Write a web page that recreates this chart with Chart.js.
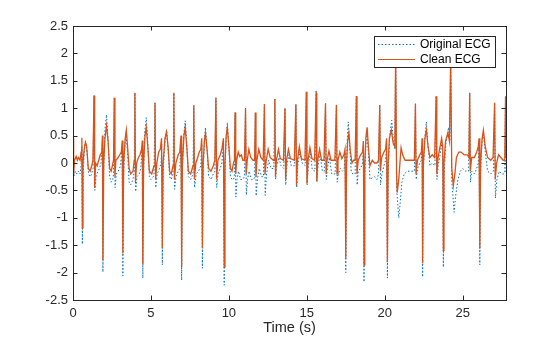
<!DOCTYPE html>
<html>
<head>
<meta charset="utf-8">
<script src="https://cdn.jsdelivr.net/npm/chart.js@4.4.1/dist/chart.umd.min.js"></script>
<style>
    html, body { margin: 0; padding: 0; background: #fff; }
    #wrap { width: 560px; height: 337px; position: relative; }
</style>
</head>
<body>
<div id="wrap"><canvas id="ecgChart" width="560" height="337"></canvas></div>
<script>
// time (s) / amplitude pairs
const origSeg1 = [
    [0, -0.3], [0.05, -0.25], [0.15, -0.15], [0.25, -0.2], [0.35, -0.15], [0.45, -0.2], [0.52, -0.05], [0.57, 0.3],
    [0.6, -1.48], [0.65, -0.2], [0.72, 0.2], [0.8, 0.4], [0.9, 0.2], [1.0, -0.2], [1.1, -0.25], [1.2, -0.2],
    [1.28, -0.1], [1.35, 1.23], [1.4, -0.5], [1.48, -0.25], [1.6, -0.15], [1.7, -0.1], [1.8, 0.0], [1.88, 0.4],
    [1.92, -1.99], [1.97, -0.1], [2.05, 0.6], [2.15, 0.88], [2.25, 0.45], [2.35, -0.25], [2.45, -0.35], [2.55, -0.3],
    [2.6, -0.2], [2.65, 1.19], [2.7, -0.45], [2.78, -0.2], [2.9, -0.15], [3.05, -0.05], [3.15, 0.3], [3.2, -2.06],
    [3.25, -0.2], [3.33, 0.35], [3.4, 0.55], [3.5, 0.2], [3.6, -0.35], [3.7, -0.4], [3.85, -0.3], [3.93, -0.15],
    [3.97, 1.28], [4.02, -0.52], [4.1, -0.25], [4.25, -0.2], [4.35, -0.1], [4.44, 0.3], [4.48, -2.1], [4.53, -0.15],
    [4.6, 0.55], [4.7, 0.83], [4.8, 0.35], [4.9, -0.25], [5.0, -0.3], [5.15, -0.25], [5.2, -0.2], [5.26, 1.1],
    [5.31, -0.45], [5.4, -0.2], [5.55, -0.1], [5.65, 0.0], [5.69, 0.35], [5.73, -1.86], [5.78, -0.15], [5.9, 0.4],
    [6.0, 0.6], [6.1, 0.25], [6.2, -0.25], [6.3, -0.3], [6.42, -0.2], [6.47, 1.28], [6.52, -0.48], [6.6, -0.25],
    [6.75, -0.15], [6.85, -0.1], [6.93, 0.35], [6.97, -2.14], [7.02, -0.15], [7.1, 0.5], [7.2, 0.77], [7.3, 0.35],
    [7.4, -0.25], [7.55, -0.3], [7.7, -0.2], [7.75, 1.05], [7.8, -0.45], [7.9, -0.2], [8.05, -0.15], [8.2, -0.05],
    [8.26, 0.35], [8.3, -1.92], [8.35, -0.15], [8.43, 0.4], [8.5, 0.65], [8.6, 0.25], [8.7, -0.25], [8.85, -0.3],
    [9.0, -0.2], [9.1, -0.15], [9.17, 1.19], [9.22, -0.45], [9.3, -0.2], [9.45, -0.1], [9.55, 0.0], [9.65, 0.35],
    [9.7, -2.23], [9.75, -0.15], [9.83, 0.45], [9.9, 0.72], [10.0, 0.3], [10.1, -0.25], [10.2, -0.3]
];
const origSeg2 = [
    [10.3, -0.3], [10.35, -0.25], [10.4, 0.92], [10.45, -0.62], [10.52, -0.3], [10.62, -0.15], [10.75, -0.3], [10.9, -0.3],
    [11.0, -0.25], [11.07, 1.0], [11.12, -0.58], [11.2, -0.3], [11.3, -0.15], [11.45, -0.3], [11.6, -0.3], [11.65, -0.25],
    [11.7, 0.92], [11.75, -0.6], [11.83, -0.3], [11.95, -0.1], [12.1, -0.25], [12.22, -0.25], [12.28, 1.07], [12.33, -0.59],
    [12.42, -0.2], [12.55, 0.05], [12.7, -0.1], [12.88, -0.1], [12.95, 1.17], [13.0, -0.3], [13.07, -0.05], [13.2, 0.1],
    [13.35, -0.05], [13.52, -0.1], [13.6, 1.0], [13.65, -0.4], [13.72, -0.05], [13.85, 0.15], [14.0, -0.05], [14.22, -0.05],
    [14.3, 1.07], [14.35, -0.45], [14.42, -0.05], [14.55, 0.2], [14.7, 0.0], [14.9, -0.05], [14.97, 1.3], [15.02, -0.4],
    [15.1, -0.05], [15.22, 0.2], [15.35, -0.12], [15.52, -0.15], [15.6, 1.33], [15.65, -0.35], [15.72, -0.05], [15.85, 0.15],
    [16.0, -0.15], [16.12, -0.15], [16.2, 1.09], [16.25, -0.3], [16.32, -0.1], [16.45, 0.1], [16.6, -0.2], [16.82, -0.2],
    [16.9, 1.06], [16.95, -0.35], [17.02, -0.2], [17.15, -0.1], [17.3, -0.15]
];
const origSeg3 = [
    [17.4, -0.1], [17.46, 0.2], [17.5, -2.0], [17.55, -0.2], [17.6, 0.45], [17.66, 0.75], [17.75, 0.3], [17.85, -0.15],
    [17.95, -0.2], [18.1, -0.2], [18.18, 1.22], [18.23, -0.4], [18.3, -0.15], [18.45, -0.1], [18.58, 0.0], [18.63, 0.3],
    [18.67, -2.17], [18.72, -0.2], [18.8, 0.4], [18.87, 0.55], [18.95, 0.2], [19.05, -0.3], [19.2, -0.27], [19.35, -0.25],
    [19.5, -0.3], [19.6, -0.2], [19.68, 1.06], [19.73, -0.4], [19.82, -0.2], [19.95, -0.05], [20.05, 0.05], [20.12, 0.3],
    [20.17, -2.1], [20.22, -0.15], [20.32, 0.5], [20.45, 0.78], [20.55, 0.4], [20.65, 0.25], [20.7, 2.0], [20.77, -0.5],
    [20.9, -1.0], [21.0, -0.7], [21.1, -0.35], [21.25, -0.2], [21.45, -0.15], [21.7, -0.15], [21.9, -0.15], [21.97, 1.08],
    [22.02, -0.3], [22.1, -0.1], [22.25, 0.0], [22.35, 0.05], [22.4, 0.3], [22.43, -2.08], [22.48, -0.15], [22.57, 0.45],
    [22.67, 0.75], [22.78, 0.3], [22.9, -0.05], [23.05, 0.0], [23.22, -0.05], [23.3, 1.22], [23.35, -0.3], [23.43, -0.05],
    [23.55, 0.15], [23.65, 0.35], [23.72, 0.2], [23.76, -1.9], [23.81, -0.2], [23.92, 0.35], [24.1, 0.65], [24.17, 0.4],
    [24.23, 1.9], [24.3, -0.3], [24.45, -0.9], [24.55, -0.6], [24.7, -0.3], [24.85, -0.15], [25.0, -0.1], [25.2, -0.15],
    [25.38, -0.15], [25.45, 1.28], [25.5, -0.35], [25.58, -0.15], [25.75, -0.2], [25.9, -0.1], [26.0, 0.0], [26.05, 0.3],
    [26.1, -1.86], [26.15, -0.2], [26.23, 0.35], [26.32, 0.55], [26.45, 0.2], [26.6, -0.15], [26.8, -0.2], [26.97, -0.15],
    [27.05, 1.1], [27.1, -0.64], [27.2, -0.3], [27.35, -0.15], [27.5, -0.2], [27.65, -0.2], [27.7, -0.15], [27.75, 1.22],
    [27.78, -0.2]
];

const cleanSeg1 = [
    [0, 0.45], [0.04, -0.2], [0.1, 0.05], [0.2, 0.12], [0.28, 0.05], [0.35, 0.1], [0.45, 0.05], [0.52, 0.2],
    [0.57, 0.46], [0.6, -1.19], [0.64, 0.0], [0.72, 0.25], [0.8, 0.38], [0.88, 0.3], [0.98, -0.1], [1.1, -0.15],
    [1.2, -0.05], [1.28, 0.05], [1.35, 1.23], [1.39, -0.45], [1.45, 0.0], [1.55, -0.05], [1.65, 0.05], [1.75, 0.15],
    [1.85, 0.2], [1.89, 0.5], [1.92, -1.77], [1.97, 0.0], [2.05, 0.45], [2.15, 0.68], [2.25, 0.4], [2.35, -0.1],
    [2.45, -0.15], [2.6, 0.05], [2.65, 1.19], [2.69, -0.25], [2.75, 0.05], [2.9, 0.1], [3.0, 0.15], [3.1, 0.2],
    [3.16, 0.41], [3.2, -1.65], [3.25, 0.0], [3.35, 0.45], [3.42, 0.6], [3.5, 0.3], [3.6, -0.1], [3.7, -0.2],
    [3.85, -0.15], [3.93, 0.05], [3.97, 1.28], [4.01, -0.35], [4.08, 0.0], [4.2, 0.1], [4.3, 0.15], [4.4, 0.25],
    [4.45, 0.41], [4.48, -1.85], [4.53, 0.0], [4.62, 0.5], [4.7, 0.65], [4.8, 0.3], [4.9, -0.15], [5.05, -0.2],
    [5.2, -0.05], [5.26, 1.1], [5.3, -0.3], [5.38, 0.0], [5.5, 0.2], [5.6, 0.25], [5.68, 0.45], [5.73, -1.55],
    [5.78, 0.0], [5.9, 0.45], [6.0, 0.57], [6.1, 0.3], [6.2, -0.15], [6.3, -0.2], [6.42, -0.05], [6.47, 1.28],
    [6.51, -0.3], [6.6, 0.0], [6.75, 0.15], [6.85, 0.2], [6.93, 0.5], [6.97, -1.9], [7.02, 0.0], [7.12, 0.5],
    [7.2, 0.65], [7.3, 0.3], [7.4, -0.15], [7.55, -0.2], [7.7, -0.05], [7.75, 1.05], [7.79, -0.3], [7.88, 0.0],
    [8.0, 0.1], [8.1, 0.2], [8.2, 0.25], [8.26, 0.45], [8.3, -1.55], [8.35, 0.0], [8.43, 0.4], [8.5, 0.55],
    [8.6, 0.25], [8.7, -0.1], [8.85, -0.15], [9.0, -0.05], [9.1, 0.05], [9.17, 1.19], [9.21, -0.3], [9.3, 0.05],
    [9.45, 0.15], [9.55, 0.25], [9.65, 0.45], [9.7, -1.9], [9.75, 0.0], [9.83, 0.5], [9.9, 0.65], [10.0, 0.3],
    [10.1, -0.1], [10.2, -0.15]
];
const cleanSeg2 = [
    [10.3, 0.0], [10.36, 0.05], [10.4, 0.92], [10.44, -0.2], [10.5, 0.05], [10.6, 0.2], [10.7, 0.12], [10.8, 0.15],
    [10.9, 0.05], [11.0, 0.05], [11.07, 1.0], [11.11, -0.2], [11.18, 0.05], [11.28, 0.25], [11.4, 0.1], [11.55, 0.05],
    [11.65, 0.05], [11.7, 0.92], [11.74, -0.25], [11.8, 0.05], [11.92, 0.25], [12.05, 0.1], [12.2, 0.05], [12.28, 1.07],
    [12.32, -0.2], [12.4, 0.05], [12.52, 0.25], [12.65, 0.1], [12.85, 0.05], [12.9, 0.05], [12.95, 1.17], [12.99, -0.25],
    [13.05, 0.05], [13.18, 0.25], [13.3, 0.08], [13.5, 0.05], [13.6, 1.0], [13.64, -0.3], [13.7, 0.05], [13.82, 0.25],
    [13.95, 0.08], [14.2, 0.05], [14.3, 1.07], [14.34, -0.4], [14.4, 0.05], [14.52, 0.3], [14.65, 0.08], [14.88, 0.05],
    [14.97, 1.3], [15.01, -0.38], [15.08, 0.05], [15.2, 0.28], [15.33, 0.08], [15.5, 0.05], [15.6, 1.28], [15.64, -0.33],
    [15.7, 0.05], [15.82, 0.25], [15.95, 0.05], [16.1, 0.05], [16.2, 1.09], [16.24, -0.2], [16.3, 0.05], [16.42, 0.22],
    [16.55, 0.05], [16.8, 0.05], [16.9, 1.06], [16.94, -0.2], [17.0, 0.05], [17.12, 0.2], [17.25, 0.08]
];
const cleanSeg3 = [
    [17.38, 0.15], [17.45, 0.25], [17.5, -1.74], [17.55, 0.0], [17.62, 0.4], [17.7, 0.55], [17.8, 0.2], [17.9, 0.0],
    [18.0, 0.05], [18.1, 0.05], [18.18, 1.22], [18.22, -0.2], [18.3, 0.05], [18.45, 0.15], [18.58, 0.2], [18.63, 0.4],
    [18.67, -1.86], [18.72, 0.0], [18.8, 0.5], [18.87, 0.65], [18.95, 0.3], [19.05, -0.05], [19.2, 0.05], [19.35, 0.0],
    [19.5, 0.0], [19.6, 0.05], [19.68, 1.06], [19.72, -0.15], [19.8, 0.1], [19.95, 0.2], [20.05, 0.25], [20.12, 0.45],
    [20.17, -1.81], [20.22, 0.0], [20.3, 0.45], [20.42, 0.6], [20.55, 0.35], [20.65, 0.3], [20.7, 2.0], [20.76, -0.2],
    [20.8, -0.54], [20.9, -0.3], [21.0, 0.1], [21.05, 0.28], [21.15, 0.15], [21.3, 0.05], [21.5, 0.05], [21.7, 0.05],
    [21.9, 0.05], [21.97, 1.08], [22.01, -0.2], [22.1, 0.05], [22.25, 0.15], [22.35, 0.2], [22.4, 0.45], [22.43, -1.83],
    [22.48, 0.0], [22.58, 0.45], [22.67, 0.6], [22.78, 0.3], [22.9, 0.1], [23.05, 0.15], [23.2, 0.1], [23.3, 1.22],
    [23.34, -0.2], [23.42, 0.1], [23.55, 0.3], [23.65, 0.45], [23.72, 0.3], [23.76, -1.6], [23.8, 0.0], [23.9, 0.4],
    [24.05, 0.55], [24.15, 0.4], [24.23, 1.9], [24.3, -0.1], [24.4, -0.41], [24.5, -0.2], [24.6, 0.1], [24.75, 0.2],
    [24.9, 0.2], [25.1, 0.15], [25.3, 0.15], [25.4, 0.1], [25.45, 1.28], [25.49, -0.15], [25.58, 0.1], [25.75, 0.1],
    [25.9, 0.2], [26.0, 0.3], [26.05, 0.45], [26.1, -1.56], [26.15, 0.0], [26.25, 0.45], [26.33, 0.6], [26.45, 0.3],
    [26.6, 0.1], [26.8, 0.05], [26.95, 0.1], [27.05, 1.1], [27.09, -0.3], [27.18, 0.0], [27.3, 0.15], [27.45, 0.1],
    [27.6, 0.05], [27.7, 0.05], [27.75, 1.22], [27.78, 0.1]
];

const xTickValues = [0, 5, 10, 15, 20, 25];
const yTickValues = [-2.5, -2, -1.5, -1, -0.5, 0, 0.5, 1, 1.5, 2, 2.5];
const xLimits = [0, 27.78];
const yLimits = [-2.5, 2.5];

const seriesNames = ['Original ECG', 'Clean ECG'];
const BLUE = '#0072BD';
const ORANGE = '#D95319';
const AXIS = '#262626';

const toPoints = segs => segs.flat().map(p => ({ x: p[0], y: p[1] }));

// MATLAB-style box + inward ticks + opaque legend
const matlabAxes = {
    id: 'matlabAxes',
    afterDatasetsDraw(chart) {
        const { ctx, chartArea: a, scales } = chart;
        const tl = 4.5;
        ctx.save();
        ctx.strokeStyle = AXIS;
        ctx.lineWidth = 1;
        ctx.beginPath();
        xTickValues.forEach(v => {
            const px = Math.round(scales.x.getPixelForValue(v)) + 0.5;
            ctx.moveTo(px, a.bottom); ctx.lineTo(px, a.bottom - tl);
            ctx.moveTo(px, a.top); ctx.lineTo(px, a.top + tl);
        });
        yTickValues.forEach(v => {
            const py = Math.round(scales.y.getPixelForValue(v)) + 0.5;
            ctx.moveTo(a.left, py); ctx.lineTo(a.left + tl, py);
            ctx.moveTo(a.right, py); ctx.lineTo(a.right - tl, py);
        });
        ctx.stroke();
        ctx.strokeRect(Math.round(a.left) + 0.5, Math.round(a.top) + 0.5,
            Math.round(a.right - a.left), Math.round(a.bottom - a.top));

        // legend box
        const lx = 374.5, ly = 36.5, lw = 121, lh = 31;
        ctx.fillStyle = '#fff';
        ctx.fillRect(lx, ly, lw, lh);
        ctx.strokeRect(lx, ly, lw, lh);
        const rows = [
            { y: 44.5, color: BLUE, dash: [1.5, 2] },
            { y: 59.5, color: ORANGE, dash: [] }
        ];
        ctx.font = '12px "Liberation Sans", Arial, sans-serif';
        ctx.textBaseline = 'middle';
        rows.forEach((r, i) => {
            ctx.strokeStyle = r.color;
            ctx.setLineDash(r.dash);
            ctx.beginPath();
            ctx.moveTo(378, r.y); ctx.lineTo(415, r.y);
            ctx.stroke();
            ctx.setLineDash([]);
            ctx.fillStyle = '#000';
            ctx.fillText(seriesNames[i], 420, r.y);
        });
        ctx.restore();
    }
};

const ctx = document.getElementById('ecgChart').getContext('2d');
new Chart(ctx, {
    type: 'line',
    data: {
        datasets: [
            {
                label: seriesNames[1],
                data: toPoints([cleanSeg1, cleanSeg2, cleanSeg3]),
                borderColor: ORANGE,
                borderWidth: 1.3,
                pointRadius: 0,
                tension: 0,
                order: 0
            },
            {
                label: seriesNames[0],
                data: toPoints([origSeg1, origSeg2, origSeg3]),
                borderColor: BLUE,
                borderWidth: 1,
                borderDash: [1.5, 2],
                pointRadius: 0,
                tension: 0,
                order: 1
            }
        ]
    },
    options: {
        responsive: false,
        animation: false,
        layout: { padding: { top: 26, right: 54, left: 0, bottom: 0 } },
        plugins: { legend: { display: false }, tooltip: { enabled: false } },
        scales: {
            x: {
                type: 'linear',
                min: xLimits[0],
                max: xLimits[1],
                grid: { display: false, drawTicks: false },
                border: { display: false },
                afterBuildTicks: s => { s.ticks = xTickValues.map(v => ({ value: v })); },
                afterFit: s => { s.height = 37; },
                ticks: {
                    color: AXIS,
                    padding: 6,
                    maxRotation: 0,
                    font: { family: '"Liberation Sans", Arial, sans-serif', size: 13 },
                    callback: v => String(v)
                },
                title: {
                    display: true,
                    text: 'Time (s)',
                    color: AXIS,
                    padding: { top: 0, bottom: 0 },
                    font: { family: '"Liberation Sans", Arial, sans-serif', size: 14.5 }
                }
            },
            y: {
                min: yLimits[0],
                max: yLimits[1],
                grid: { display: false, drawTicks: false },
                border: { display: false },
                afterBuildTicks: s => { s.ticks = yTickValues.map(v => ({ value: v })); },
                afterFit: s => { s.width = 73; },
                ticks: {
                    color: AXIS,
                    padding: 5,
                    font: { family: '"Liberation Sans", Arial, sans-serif', size: 13 },
                    callback: v => String(+v.toFixed(1))
                }
            }
        }
    },
    plugins: [matlabAxes]
});
</script>
</body>
</html>
